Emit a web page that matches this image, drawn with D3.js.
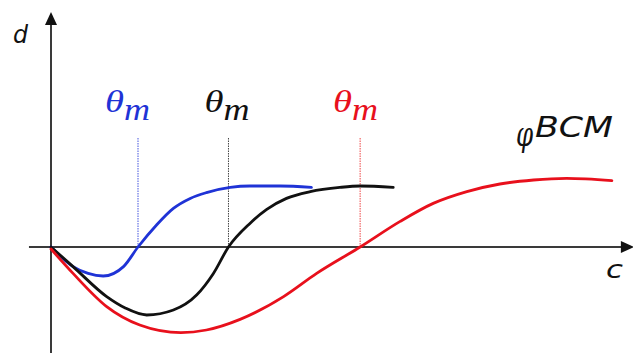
<!DOCTYPE html>
<html>
<head>
<meta charset="utf-8">
<script src="https://cdn.jsdelivr.net/npm/d3@7"></script>
<style>
  body { margin: 0; background: #fff; }
  svg { display: block; }
</style>
</head>
<body>
<svg width="633" height="353"></svg>
<script>
// curve data (c, d)
const blueCurve = [
  [0, 0], [0.38, -0.98], [0.64, -1.32], [0.90, -1.45], [1.25, -0.98], [1.50, 0],
  [1.82, 1.10], [2.11, 1.93], [2.40, 2.43], [2.68, 2.72], [3.09, 2.98],
  [3.43, 3.05], [3.95, 3.05], [4.49, 2.98]
];
const blackCurve = [
  [0, 0], [0.38, -0.98], [0.96, -2.48], [1.28, -3.05], [1.65, -3.40], [2.11, -3.15],
  [2.51, -2.40], [2.80, -1.32], [3.06, 0], [3.43, 1.18], [3.72, 1.88],
  [4.06, 2.43], [4.47, 2.77], [4.98, 2.98], [5.33, 3.05], [5.90, 2.98]
];
const redCurve = [
  [0, -0.1], [0.38, -1.32], [0.96, -2.98], [1.53, -3.90], [2.24, -4.28], [2.68, -4.15],
  [3.26, -3.62], [4.01, -2.48], [4.58, -1.32], [5.33, 0], [6.02, 1.28],
  [6.59, 2.18], [7.17, 2.77], [7.74, 3.15], [8.32, 3.35], [8.89, 3.43], [9.67, 3.32]
];
// thresholds theta_m of each curve
const thresholds = [1.50, 3.06, 5.33];
const seriesNames = ["blue", "black", "red"];
const seriesColors = ["#1f33d6", "#111111", "#e8101c"];
const dottedColors = ["#4455dd", "#444444", "#ee4444"];

const svg = d3.select("svg");
const width = +svg.attr("width");
const height = +svg.attr("height");

// scales: 58 px per unit of c, 20 px per unit of d
const xScale = d3.scaleLinear().domain([0, 10]).range([51, 631]);
const yScale = d3.scaleLinear().domain([0, 10]).range([247, 47]);

const cMin = -0.38, cMax = 10.05;
const dMin = -5.3, dMax = 11.75;

// axes
svg.append("line")
  .attr("x1", xScale(cMin)).attr("x2", xScale(cMax) - 10)
  .attr("y1", yScale(0)).attr("y2", yScale(0))
  .attr("stroke", "#3a3a3a").attr("stroke-width", 2);
svg.append("line")
  .attr("x1", xScale(0)).attr("x2", xScale(0))
  .attr("y1", yScale(dMin)).attr("y2", yScale(dMax) + 10)
  .attr("stroke", "#3a3a3a").attr("stroke-width", 2);

// arrow heads
const xt = xScale(cMax), yt = yScale(0);
svg.append("path")
  .attr("d", `M${xt},${yt} L${xt - 13},${yt - 6} L${xt - 13},${yt + 6} Z`)
  .attr("fill", "#111");
const xa = xScale(0), ya = yScale(dMax);
svg.append("path")
  .attr("d", `M${xa},${ya} L${xa - 6},${ya + 13} L${xa + 6},${ya + 13} Z`)
  .attr("fill", "#111");

// dotted threshold lines
svg.selectAll(".thr")
  .data(thresholds)
  .join("line")
  .attr("class", "thr")
  .attr("x1", d => xScale(d)).attr("x2", d => xScale(d))
  .attr("y1", yScale(5.45)).attr("y2", yScale(0))
  .attr("stroke", (d, i) => dottedColors[i])
  .attr("stroke-width", 1)
  .attr("stroke-dasharray", "1.5,1");

// curves
const line = d3.line()
  .x(d => xScale(d[0]))
  .y(d => yScale(d[1]))
  .curve(d3.curveMonotoneX);

svg.selectAll(".curve")
  .data([blueCurve, blackCurve, redCurve])
  .join("path")
  .attr("class", "curve")
  .attr("d", line)
  .attr("fill", "none")
  .attr("stroke", (d, i) => seriesColors[i])
  .attr("stroke-width", 2.8)
  .attr("stroke-linecap", "round");

// theta_m labels
const labelShift = [-33, -24, -27];
const labels = svg.selectAll(".theta")
  .data(thresholds)
  .join("g")
  .attr("class", "theta")
  .attr("fill", (d, i) => seriesColors[i])
  .attr("font-family", "'Liberation Serif', serif")
  .attr("font-style", "italic");

labels.append("text")
  .attr("x", (d, i) => xScale(d) + labelShift[i])
  .attr("y", 112)
  .attr("font-size", 32)
  .attr("textLength", 19)
  .attr("lengthAdjust", "spacingAndGlyphs")
  .text("θ");
labels.append("text")
  .attr("x", (d, i) => xScale(d) + labelShift[i] + 19)
  .attr("y", 120)
  .attr("font-size", 32)
  .attr("textLength", 26)
  .attr("lengthAdjust", "spacingAndGlyphs")
  .text("m");

// axis names
svg.append("text")
  .attr("x", 13).attr("y", 43)
  .attr("font-family", "'DejaVu Sans', sans-serif")
  .attr("font-style", "italic")
  .attr("font-size", 24)
  .attr("textLength", 15)
  .attr("lengthAdjust", "spacingAndGlyphs")
  .attr("fill", "#111")
  .text("d");
svg.append("text")
  .attr("x", 606).attr("y", 278)
  .attr("font-family", "'DejaVu Sans', sans-serif")
  .attr("font-style", "italic")
  .attr("font-size", 24)
  .attr("textLength", 17)
  .attr("lengthAdjust", "spacingAndGlyphs")
  .attr("fill", "#111")
  .text("c");

// phi^BCM, phi squeezed with a transform
svg.append("text")
  .attr("transform", "translate(516,146) scale(0.72,1)")
  .attr("font-family", "'DejaVu Serif', serif")
  .attr("font-style", "italic")
  .attr("font-size", 34)
  .attr("fill", "#111")
  .text("φ");
svg.append("text")
  .attr("x", 535).attr("y", 137)
  .attr("font-family", "'DejaVu Sans', sans-serif")
  .attr("font-style", "italic")
  .attr("font-size", 29)
  .attr("textLength", 78)
  .attr("lengthAdjust", "spacingAndGlyphs")
  .attr("fill", "#111")
  .text("BCM");
</script>
</body>
</html>
